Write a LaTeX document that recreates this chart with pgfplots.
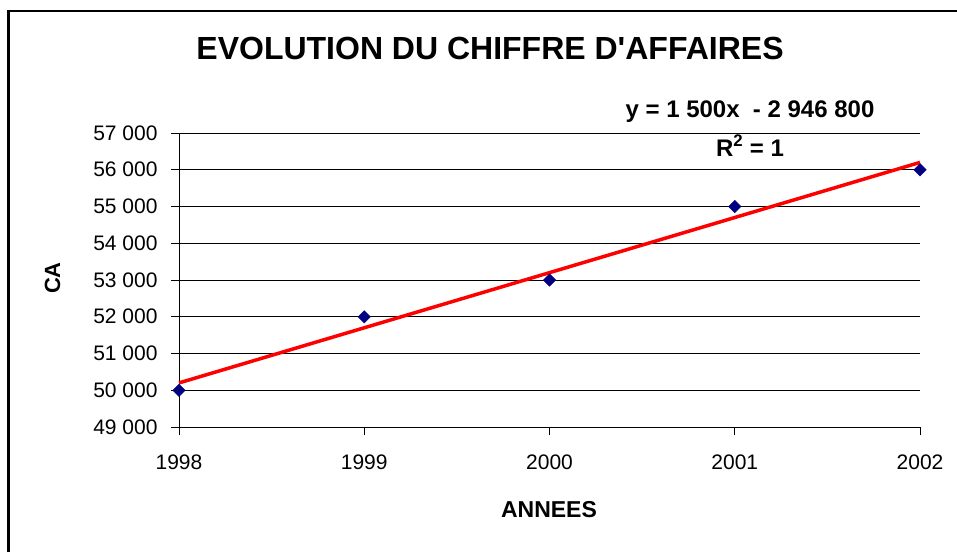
\documentclass[border=0pt]{standalone}
\usepackage{pgfplots}
\pgfplotsset{compat=1.18}
\usepackage{fontspec}
\setmainfont{Liberation Sans}
\definecolor{navy}{RGB}{0,0,128}
\begin{document}
\begin{tikzpicture}
\useasboundingbox (0pt,0pt) rectangle (957pt,-552pt);
\draw[line width=2.5pt] (8.5pt,-552pt) -- (8.5pt,-11pt) -- (957pt,-11pt);
\begin{axis}[at={(179pt,-427pt)}, anchor=south west, scale only axis,
  width=741pt, height=294pt,
  xmin=1998, xmax=2002, ymin=49000, ymax=57000,
  scaled y ticks=false, scaled x ticks=false,
  xtick={1998,1999,2000,2001,2002},
  xticklabels={1998,1999,2000,2001,2002},
  ytick={49000,50000,...,57000},
  yticklabels={49 000,50 000,51 000,52 000,53 000,54 000,55 000,56 000,57 000},
  axis x line=bottom, axis y line=left,
  axis line style={-, line width=1pt, black},
  tick style={line width=1pt, black},
  tick align=outside, major tick length=8pt,
  ymajorgrids, grid style={line width=1pt, black},
  ticklabel style={font=\fontsize{21}{25}\selectfont},
  yticklabel style={xshift=-10pt},
  xticklabel style={yshift=-16pt},
  clip=false]
\addplot[only marks, mark=square*, mark size=4.4pt, mark options={rotate=45, fill=navy, draw=navy}] coordinates {(1998,50000) (1999,52000) (2000,53000) (2001,55000) (2002,56000)};
\addplot[red, line width=3.5pt] coordinates {(1998,50200) (2002,56200)};
\end{axis}
\node[anchor=base, font=\fontsize{32}{38}\selectfont\bfseries, inner sep=0pt] at (490pt,-59.3pt) {EVOLUTION DU CHIFFRE D\textquotesingle AFFAIRES};
\node[anchor=base, font=\fontsize{24}{28}\selectfont\bfseries, inner sep=0pt] at (750pt,-117pt) {y = 1 500x \ - 2 946 800};
\node[anchor=base, font=\fontsize{24}{28}\selectfont\bfseries, inner sep=0pt] at (750pt,-156pt) {R\textsuperscript{2} = 1};
\node[anchor=base, font=\fontsize{23}{27}\selectfont\bfseries, inner sep=0pt] at (549pt,-517pt) {ANNEES};
\node[anchor=base, rotate=90, font=\fontsize{22}{26}\selectfont\bfseries, inner sep=0pt] at (60pt,-278pt) {CA};
\end{tikzpicture}
\end{document}
